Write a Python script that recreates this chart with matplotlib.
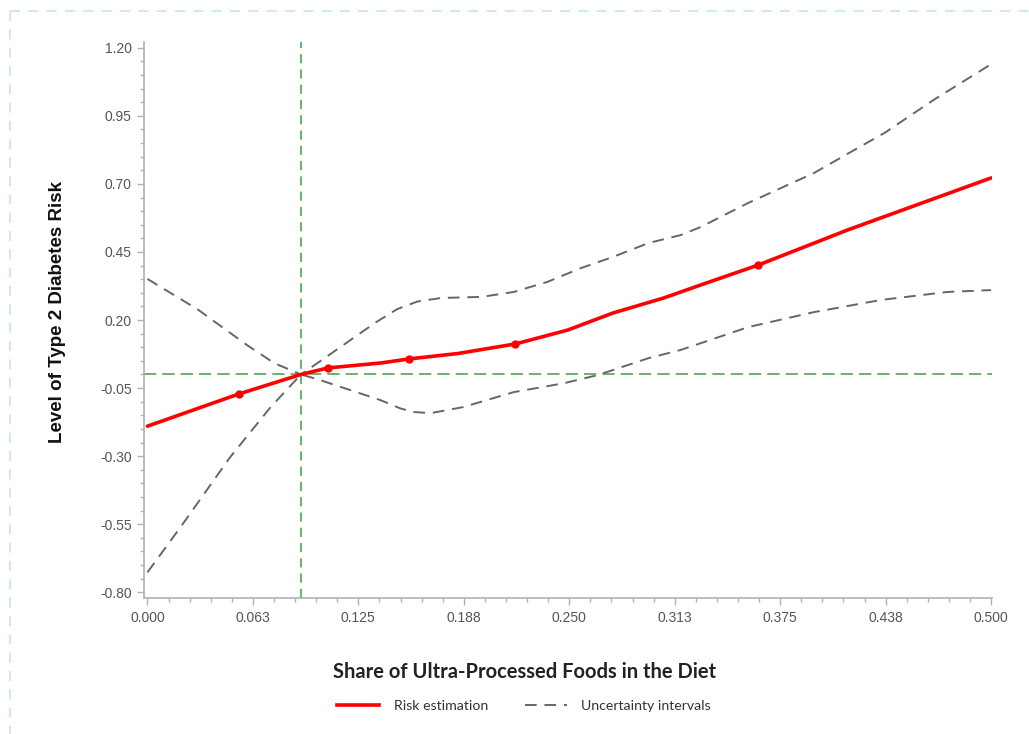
import numpy as np
from matplotlib import pyplot as plt
from matplotlib.lines import Line2D

# values
risk_x = [0.0, 0.054, 0.091, 0.107, 0.138, 0.155, 0.184, 0.218, 0.249, 0.276,
          0.306, 0.328, 0.362, 0.415, 0.5]
risk_y = [-0.19, -0.072, 0.0, 0.024, 0.042, 0.057, 0.077, 0.112, 0.163, 0.226,
          0.281, 0.329, 0.402, 0.531, 0.722]

knot_x = [0.054, 0.107, 0.155, 0.218, 0.362]
knot_y = [-0.072, 0.024, 0.057, 0.112, 0.402]

upper_x = [0.0, 0.030, 0.059, 0.075, 0.091, 0.105, 0.120, 0.135, 0.148, 0.160,
           0.174, 0.198, 0.217, 0.237, 0.257, 0.276, 0.297, 0.316, 0.328, 0.356,
           0.395, 0.419, 0.437, 0.466, 0.5]
upper_y = [0.351, 0.238, 0.108, 0.042, 0.0, 0.06, 0.125, 0.19, 0.24, 0.268,
           0.281, 0.285, 0.303, 0.340, 0.391, 0.432, 0.483, 0.512, 0.542, 0.630,
           0.740, 0.825, 0.888, 1.009, 1.14]

lower_x = [0.0, 0.0196, 0.049, 0.073, 0.091, 0.101, 0.120, 0.138, 0.150, 0.158,
           0.168, 0.187, 0.217, 0.247, 0.267, 0.297, 0.316, 0.328, 0.356, 0.395,
           0.435, 0.474, 0.5]
lower_y = [-0.727, -0.561, -0.304, -0.120, 0.0, -0.018, -0.057, -0.094, -0.125, -0.138,
           -0.142, -0.120, -0.065, -0.032, -0.002, 0.060, 0.090, 0.115, 0.174, 0.229,
           0.274, 0.303, 0.310]

ref_x = 0.091
ref_y = 0.0

xticks = [0.0, 0.0625, 0.125, 0.1875, 0.25, 0.3125, 0.375, 0.4375, 0.5]
xtick_labels = ["0.000", "0.063", "0.125", "0.188", "0.250", "0.313", "0.375", "0.438", "0.500"]
yticks = [-0.80, -0.55, -0.30, -0.05, 0.20, 0.45, 0.70, 0.95, 1.20]

fig = plt.figure(figsize=(10.29, 7.34), dpi=100)
ax = fig.add_axes([0.140, 0.185, 0.824, 0.758])

ax.axvline(ref_x, color="#3fa03f", lw=1.1, dashes=(6, 4))
ax.axhline(ref_y, color="#3fa03f", lw=1.1, dashes=(8, 4))

ax.plot(upper_x, upper_y, color="#666666", lw=1.4, dashes=(6, 4))
ax.plot(lower_x, lower_y, color="#666666", lw=1.4, dashes=(6, 4))
ax.plot(risk_x, risk_y, color="#ff0000", lw=2.6, solid_capstyle="round")
ax.plot(knot_x, knot_y, "o", color="#ff0000", ms=5)

ax.set_xlim(-0.002, 0.5005)
ax.set_ylim(-0.822, 1.222)
ax.set_xticks(xticks)
ax.set_xticklabels(xtick_labels)
ax.set_yticks(yticks)
ax.set_yticklabels(["%.2f" % v for v in yticks])
ax.set_xticks(np.arange(0, 0.5001, 0.0125), minor=True)
ax.set_yticks(np.arange(-0.80, 1.2001, 0.05), minor=True)

for s in ["top", "right"]:
    ax.spines[s].set_visible(False)
for s in ["left", "bottom"]:
    ax.spines[s].set_color("#b0b0b0")
    ax.spines[s].set_linewidth(1.2)
ax.tick_params(which="major", direction="out", length=5, color="#b0b0b0", width=1,
               labelsize=10, labelcolor="#555555", pad=4)
ax.tick_params(which="minor", direction="out", length=3, color="#b0b0b0", width=1)
for lab in ax.get_xticklabels() + ax.get_yticklabels():
    lab.set_family("Liberation Sans")

fig.text(57 / 1029, 1 - 312 / 734, "Level of Type 2 Diabetes Risk", rotation=90,
         ha="center", va="center", fontsize=13.5, fontweight="bold",
         family="Liberation Sans", color="#111111")
fig.text(525 / 1029, 1 - 672 / 734, "Share of Ultra-Processed Foods in the Diet",
         ha="center", va="center", fontsize=14.5, fontweight="bold",
         family="Lato", color="#222222")

handles = [Line2D([], [], color="#ff0000", lw=2.6),
           Line2D([], [], color="#666666", lw=1.4, dashes=(6, 4))]
leg = fig.legend(handles, ["Risk estimation", "Uncertainty intervals"], ncol=2,
                 loc="center", bbox_to_anchor=(524 / 1029, 1 - 706 / 734),
                 frameon=False, handlelength=3.0, handletextpad=1.0, columnspacing=2.6,
                 prop={"family": "Lato", "size": 10.2})
for t in leg.get_texts():
    t.set_color("#333333")

# light dashed frame round the panel
fig.add_artist(Line2D([10 / 1029, 1.0], [1 - 11 / 734, 1 - 11 / 734],
                      color="#c5e6ee", lw=1.2, dashes=(6, 5)))
fig.add_artist(Line2D([10 / 1029, 10 / 1029], [1 - 11 / 734, 0.0],
                      color="#c5e6ee", lw=1.2, dashes=(6, 5)))

fig.savefig("out.png", dpi=100)
